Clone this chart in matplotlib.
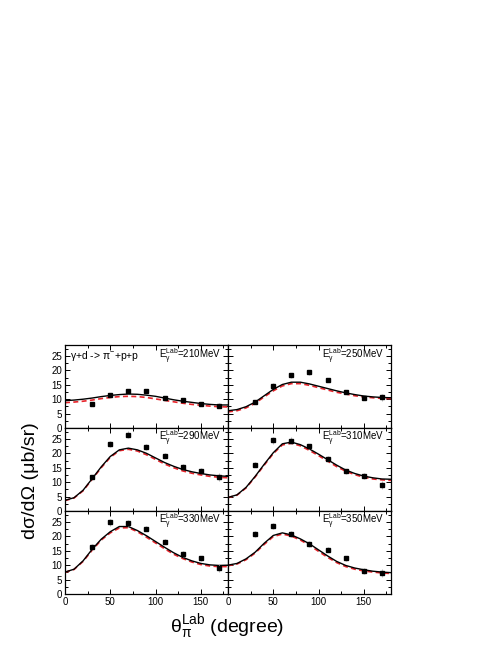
import numpy as np
import matplotlib
matplotlib.use("Agg")
import matplotlib.pyplot as plt
from matplotlib.ticker import MultipleLocator

plt.rcParams['font.family'] = ['Liberation Sans', 'DejaVu Sans']
plt.rcParams['mathtext.fontset'] = 'custom'
plt.rcParams['mathtext.rm'] = 'Liberation Sans'
plt.rcParams['mathtext.it'] = 'Liberation Sans:italic'
plt.rcParams['mathtext.bf'] = 'Liberation Sans:bold'

## data
theta_exp = [30, 50, 70, 90, 110, 130, 150, 170]
theta_th = [0, 10, 20, 30, 40, 50, 60, 70, 80, 90, 100, 110, 120, 130, 140, 150, 160, 170, 180]

energies = [210, 250, 290, 310, 330, 350]

exp_210 = [8.2, 11.3, 13.0, 12.9, 10.3, 9.7, 8.2, 7.8]
exp_250 = [9.0, 14.7, 18.3, 19.4, 16.7, 12.6, 10.5, 10.7]
exp_290 = [11.7, 23.3, 26.5, 22.1, 19.2, 15.4, 14.0, 11.8]
exp_310 = [16.1, 24.5, 24.4, 22.4, 18.0, 13.7, 12.1, 8.9]
exp_330 = [16.2, 24.8, 24.7, 22.7, 18.2, 13.9, 12.4, 8.9]
exp_350 = [20.8, 23.6, 20.9, 17.4, 15.3, 12.4, 8.0, 7.2]

err_210 = [0.6, 0.6, 0.7, 0.6, 0.6, 0.6, 0.6, 1.0]
err_250 = [0.7, 0.8, 0.9, 0.9, 0.8, 0.7, 0.7, 1.2]
err_290 = [0.9, 1.0, 1.1, 1.0, 0.9, 0.9, 0.9, 1.4]
err_310 = [1.0, 1.1, 1.1, 1.0, 0.9, 0.9, 0.9, 1.4]
err_330 = [1.0, 1.1, 1.1, 1.0, 0.9, 0.9, 0.9, 1.4]
err_350 = [1.0, 1.1, 1.0, 1.0, 0.9, 0.9, 0.9, 1.4]

full_210 = [9.5, 9.7, 10.0, 10.4, 10.9, 11.3, 11.6, 11.8, 11.7, 11.4, 11.0, 10.4, 9.8, 9.3, 8.9, 8.5, 8.2, 8.0, 8.0]
full_250 = [6.0, 6.4, 7.4, 9.0, 11.2, 13.4, 15.1, 15.9, 15.9, 15.3, 14.5, 13.7, 12.9, 12.2, 11.6, 11.1, 10.8, 10.6, 10.5]
full_290 = [3.7, 4.6, 7.2, 11.2, 15.3, 18.9, 21.2, 21.8, 21.2, 20.0, 18.4, 16.8, 15.5, 14.4, 13.6, 13.0, 12.5, 12.2, 12.0]
full_310 = [4.7, 5.6, 8.2, 12.0, 16.2, 20.2, 23.3, 23.9, 23.0, 21.5, 19.7, 17.8, 15.9, 14.2, 13.0, 12.1, 11.5, 11.1, 11.0]
full_330 = [7.6, 8.6, 11.5, 15.5, 19.0, 21.6, 23.4, 23.4, 22.0, 20.2, 18.2, 16.2, 14.3, 12.7, 11.5, 10.6, 10.1, 9.9, 10.0]
full_350 = [10.0, 10.6, 12.2, 14.5, 17.6, 20.3, 21.2, 20.5, 19.1, 17.4, 15.3, 13.2, 11.3, 9.9, 9.0, 8.4, 7.9, 7.6, 7.4]

imp_210 = [8.8, 9.0, 9.3, 9.7, 10.2, 10.6, 10.9, 11.0, 10.9, 10.6, 10.1, 9.6, 9.1, 8.6, 8.2, 7.9, 7.6, 7.4, 7.3]
imp_250 = [5.6, 6.0, 7.0, 8.6, 10.8, 12.9, 14.6, 15.4, 15.4, 14.8, 14.0, 13.2, 12.4, 11.8, 11.2, 10.8, 10.5, 10.3, 10.2]
imp_290 = [3.6, 4.5, 7.0, 11.0, 15.0, 18.6, 20.9, 21.4, 20.8, 19.5, 17.9, 16.3, 15.0, 13.9, 13.1, 12.5, 12.0, 11.7, 11.5]
imp_310 = [4.6, 5.5, 8.0, 11.8, 15.9, 19.9, 22.9, 23.5, 22.6, 21.0, 19.2, 17.3, 15.4, 13.8, 12.6, 11.7, 11.1, 10.8, 10.6]
imp_330 = [7.5, 8.5, 11.3, 15.2, 18.7, 21.2, 22.9, 23.0, 21.6, 19.7, 17.7, 15.7, 13.8, 12.3, 11.1, 10.2, 9.7, 9.5, 9.5]
imp_350 = [9.8, 10.4, 11.9, 14.2, 17.2, 19.9, 20.8, 20.1, 18.7, 16.9, 14.8, 12.7, 10.9, 9.5, 8.6, 8.0, 7.6, 7.3, 7.1]

exp_all = [exp_210, exp_250, exp_290, exp_310, exp_330, exp_350]
err_all = [err_210, err_250, err_290, err_310, err_330, err_350]
full_all = [full_210, full_250, full_290, full_310, full_330, full_350]
imp_all = [imp_210, imp_250, imp_290, imp_310, imp_330, imp_350]

fig = plt.figure(figsize=(4.98, 6.45), dpi=100)

lefts = [0.1305, 0.4578]
bottoms = [0.3364, 0.2078, 0.0791]
w, h = 0.3273, 0.1287

for i, E in enumerate(energies):
    row, col = i // 2, i % 2
    ax = fig.add_axes([lefts[col], bottoms[row], w, h])
    ax.plot(theta_th, full_all[i], color="black", lw=1.0, zorder=3)
    ax.plot(theta_th, imp_all[i], color="#e8242b", lw=1.2, ls=(0, (3, 2)), zorder=2)
    ax.errorbar(theta_exp, exp_all[i], yerr=err_all[i], fmt="s", color="black",
                ms=3.0, ecolor="#b0b0b0", elinewidth=0.6, capsize=0, zorder=4)
    ax.set_xlim(0, 180)
    ax.set_ylim(0, 28.8)
    ax.xaxis.set_major_locator(MultipleLocator(50))
    ax.xaxis.set_minor_locator(MultipleLocator(25))
    ax.yaxis.set_major_locator(MultipleLocator(5))
    ax.yaxis.set_minor_locator(MultipleLocator(2.5))
    ax.tick_params(which="both", direction="in", top=True, right=True, labelsize=7, width=0.7)
    ax.tick_params(which="major", length=3.5, pad=2)
    ax.tick_params(which="minor", length=2)
    for s in ax.spines.values():
        s.set_linewidth(0.9)
    if col == 1:
        ax.set_yticklabels([])
    if row < 2:
        ax.set_xticklabels([])
    ax.text(0.96, 0.87, r"E$_{\mathrm{\gamma}}^{\mathrm{Lab}}$=%dMeV" % E, transform=ax.transAxes,
            ha="right", va="center", fontsize=7)
    if i == 0:
        ax.text(0.03, 0.87, r"γ+d -> π$^{-}$+p+p", transform=ax.transAxes,
                ha="left", va="center", fontsize=7.5)

fig.text(0.062, 0.255, "dσ/dΩ (μb/sr)", rotation=90,
         ha="center", va="center", fontsize=14)
fig.text(0.456, 0.028, r"θ$_{\mathrm{π}}^{\mathrm{Lab}}$ (degree)", ha="center", va="center", fontsize=14)

fig.savefig("out.png", dpi=100)
